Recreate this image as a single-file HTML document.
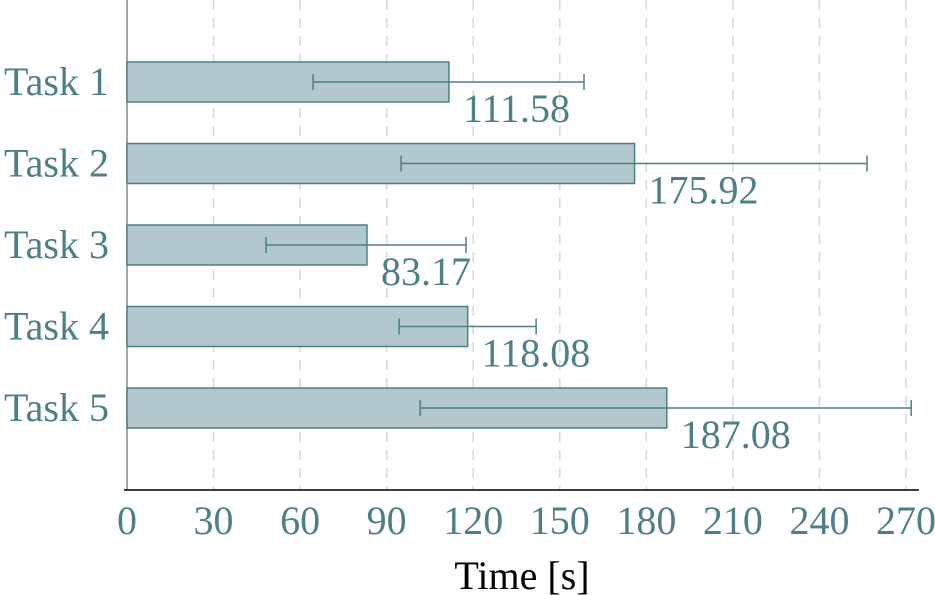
<!DOCTYPE html>
<html><head><meta charset="utf-8"><style>
body{margin:0;background:#fff}
svg{display:block;font-family:"Liberation Serif",serif}
</style></head><body>
<svg id="chart" width="935" height="595" viewBox="0 0 935 595"></svg>
<script>
const categories=["Task 1","Task 2","Task 3","Task 4","Task 5"];
const values=[111.58,175.92,83.17,118.08,187.08];
const errLow=[64.5,95,48.2,94.3,101.6];
const errHigh=[158.4,256.5,117.5,141.8,271.8];
const ticks=[0,30,60,90,120,150,180,210,240,270];
const labels=["111.58","175.92","83.17","118.08","187.08"];

const svg=document.getElementById('chart');
const NS='http://www.w3.org/2000/svg';
const x0=127,xs=(906-127)/270;
const X=v=>x0+v*xs;
const Y=i=>82+i*81.5;
const teal='#4e7f87';
const FS=40;
function mk(t,a){const e=document.createElementNS(NS,t);for(const k in a)e.setAttribute(k,a[k]);svg.appendChild(e);return e;}

ticks.forEach((t,i)=>{
  if(t>0){const g=mk('line',{x1:X(t),x2:X(t),y1:0,y2:490,stroke:'#d8d8d8','stroke-width':1.5,'stroke-dasharray':'10,8'});
  
  }
  const tl=mk('text',{x:X(t),y:534,'text-anchor':'middle','font-size':FS,fill:teal});
  tl.textContent=t;
  
  
});
const ya=mk('line',{x1:127,x2:127,y1:0,y2:490,stroke:'#888','stroke-width':1.5});


const xa=mk('line',{x1:124,x2:919,y1:490,y2:490,stroke:'#000','stroke-width':1.5});



categories.forEach((c,i)=>{
  const y=Y(i);
  const b=mk('rect',{x:X(0),y:y-20,width:X(values[i])-X(0),height:40,fill:'#b3c8cc',stroke:teal,'stroke-width':1.5});
  
  
  const e=mk('path',{d:`M${X(errLow[i])},${y}H${X(errHigh[i])}M${X(errLow[i])},${y-8}V${y+8}M${X(errHigh[i])},${y-8}V${y+8}`,stroke:teal,'stroke-width':1.5,fill:'none'});
  
  
  const l=mk('text',{x:X(values[i])+14,y:y+40,'font-size':FS,fill:teal});
  l.textContent=labels[i];
  
  
  const cl=mk('text',{x:109,y:y+13,'text-anchor':'end','font-size':FS,fill:teal});
  cl.textContent=c;
  
  
});
const tt=mk('text',{x:522,y:589,'text-anchor':'middle','font-size':FS,fill:'#000'});
tt.textContent='Time [s]';


</script>
</body></html>
